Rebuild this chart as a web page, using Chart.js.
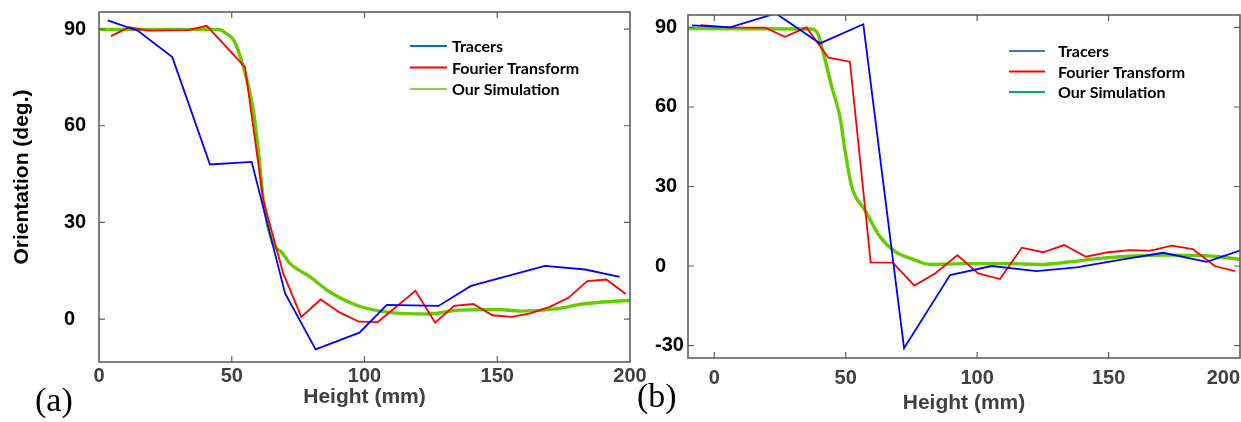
<!DOCTYPE html>
<html>
<head>
<meta charset="utf-8">
<script src="https://cdn.jsdelivr.net/npm/chart.js@4.4.1/dist/chart.umd.min.js"></script>
<style>
  html, body { margin: 0; padding: 0; background: #fff; }
  #wrap { position: relative; width: 1241px; height: 422px; overflow: hidden; }
  #chartA { position: absolute; left: 0; top: 0; }
  #chartB { position: absolute; left: 630px; top: 0; }
</style>
</head>
<body>
<div id="wrap">
  <canvas id="chartA" width="660" height="422"></canvas>
  <canvas id="chartB" width="611" height="422"></canvas>
</div>
<script>
// series names, same in both panels
const seriesNames = ['Tracers', 'Fourier Transform', 'Our Simulation'];

// panel (a)
const aTracersX = [3.3, 14.8, 27.6, 41.8, 57.5, 70.1, 81.6, 98.1, 108.4, 127.9, 140.1, 168.0, 183.1, 196.1];
const aTracersY = [92.7, 89.4, 81.3, 48.0, 48.8, 8.0, -9.4, -4.2, 4.4, 4.1, 10.3, 16.5, 15.4, 13.1];
const aFourierX = [4.5, 11.4, 18.3, 33.6, 40.6, 55.0, 61.9, 69.4, 76.2, 83.5, 90.6, 97.9, 105.0, 119.2, 126.6,
                   133.8, 141.0, 148.2, 155.4, 162.4, 169.8, 176.8, 183.9, 191.1, 198.4];
const aFourierY = [87.8, 90.6, 89.5, 89.7, 91.0, 78.2, 36.9, 14.2, 0.7, 6.1, 2.1, -0.8, -0.9, 8.8, -1.1,
                   4.1, 4.7, 1.2, 0.7, 1.8, 3.8, 6.6, 11.8, 12.3, 7.8];
const aSimX = [0, 43.0, 45.6, 48.0, 50.8, 54.4, 58.1, 60.0, 61.9, 65.5, 68.7, 71.9, 79.5, 86.8, 98.1,
               109.4, 124.4, 135.7, 150.8, 158.3, 172.0, 182.1, 188.3, 200];
const aSimY = [89.9, 89.9, 89.8, 88.6, 86.5, 78.2, 64.8, 52.4, 36.9, 23.5, 20.9, 17.3, 13.1, 8.5, 4.0,
               2.1, 1.6, 2.8, 3.0, 2.5, 3.2, 4.7, 5.2, 5.8];

// panel (b)
const bTracersX = [-8.4, 6.0, 23.4, 40.2, 56.7, 72.2, 89.7, 105.5, 122.6, 137.8, 154.3, 170.8, 187.3, 200];
const bTracersY = [90.8, 90.0, 95.3, 84.0, 91.2, -31.0, -3.4, 0.0, -1.9, -0.5, 2.3, 5.0, 1.6, 5.8];
const bFourierX = [-5.2, 6.0, 19.3, 26.9, 35.1, 43.4, 51.6, 59.5, 67.9, 76.1, 84.0, 92.5, 100.4, 108.7, 117.0,
                   125.1, 133.1, 141.4, 149.9, 158.1, 166.0, 174.0, 182.0, 190.4, 198.1];
const bFourierY = [90.9, 90.0, 89.9, 86.5, 90.0, 78.6, 77.1, 1.4, 1.3, -7.4, -2.8, 4.1, -2.8, -4.9, 6.9,
                   5.2, 7.9, 3.5, 5.2, 6.0, 5.8, 7.7, 6.4, 0.0, -1.9];
const bSimX = [-10, 36.5, 38.3, 39.6, 41.2, 44.7, 47.8, 49.7, 52.3, 57.3, 63.0, 68.8, 75.7, 82.1, 96.0,
               112.5, 123.9, 134.0, 146.7, 159.4, 172.1, 184.7, 192.3, 200];
const bSimY = [89.6, 89.4, 89.0, 87.1, 81.5, 67.6, 56.3, 43.8, 29.9, 21.1, 11.1, 5.4, 2.5, 0.6, 0.9,
               0.9, 0.6, 1.4, 2.9, 3.8, 4.1, 4.0, 3.5, 2.5];

// axis ticks and their labels
const aXTicks = [0, 50, 100, 150, 200];
const aXLabels = ['0', '50', '100', '150', '200'];
const aYTicks = [0, 30, 60, 90];
const bXTicks = [-10, 0, 50, 100, 150, 200];   // -10 is the left edge, left unlabelled
const bXLabels = ['', '0', '50', '100', '150', '200'];
const bYTicks = [-30, 0, 30, 60, 90];

const lineColors = ['#0000ff', '#ff0000', '#66cc00'];
const lineWidths = [1.8, 1.8, 3.4];
const legendColorsA = ['#0070c0', '#ff0000', '#92d050'];
const legendColorsB = ['#4472c4', '#ff0000', '#00b050'];

const tickFont = { family: 'Liberation Sans', size: 20, weight: 'bold' };
const titleFont = { family: 'Liberation Sans', size: 21, weight: 'bold' };

function pts(xs, ys) {
  return xs.map((x, i) => ({ x: x, y: ys[i] }));
}

function makeDatasets(series) {
  return series.map((s, i) => ({
    label: seriesNames[i],
    data: pts(s[0], s[1]),
    borderColor: lineColors[i],
    borderWidth: lineWidths[i],
    pointRadius: 0,
    tension: 0,
    cubicInterpolationMode: i === 2 ? 'monotone' : 'default',
    fill: false
  }));
}

// frame, inward ticks, legend, panel tag and y title
const panelDecor = {
  id: 'panelDecor',
  afterDatasetsDraw(chart, args, o) {
    const { ctx, chartArea: a, scales } = chart;
    ctx.save();
    ctx.strokeStyle = '#5f5f5f';
    ctx.lineWidth = 1.6;
    ctx.strokeRect(a.left, a.top, a.right - a.left, a.bottom - a.top);

    ctx.lineWidth = 1.2;
    ctx.beginPath();
    scales.x.ticks.forEach(t => {
      if (t.value <= scales.x.min || t.value >= scales.x.max) return;
      const px = scales.x.getPixelForValue(t.value);
      ctx.moveTo(px, a.bottom); ctx.lineTo(px, a.bottom - 6);
      ctx.moveTo(px, a.top); ctx.lineTo(px, a.top + 6);
    });
    scales.y.ticks.forEach(t => {
      if (t.value <= scales.y.min || t.value >= scales.y.max) return;
      const py = scales.y.getPixelForValue(t.value);
      ctx.moveTo(a.left, py); ctx.lineTo(a.left + 6, py);
      ctx.moveTo(a.right, py); ctx.lineTo(a.right - 6, py);
    });
    ctx.stroke();

    // legend
    ctx.font = 'bold 16px Lato';
    ctx.textBaseline = 'middle';
    chart.data.datasets.forEach((ds, i) => {
      const y = o.legendY + i * o.legendGap;
      ctx.strokeStyle = o.legendColors[i];
      ctx.lineWidth = 2.2;
      ctx.beginPath();
      ctx.moveTo(o.legendX, y);
      ctx.lineTo(o.legendX + o.legendLen, y);
      ctx.stroke();
      ctx.fillStyle = '#000';
      ctx.fillText(ds.label, o.legendTextX, y + 1);
    });

    // panel tag
    ctx.font = '34px "Liberation Serif"';
    ctx.textBaseline = 'alphabetic';
    ctx.fillStyle = '#000';
    ctx.fillText(o.tag, o.tagX, o.tagY);

    if (o.yTitle) {
      ctx.translate(o.yTitleX, o.yTitleY);
      ctx.rotate(-Math.PI / 2);
      ctx.textAlign = 'center';
      ctx.textBaseline = 'middle';
      ctx.font = 'bold 21px "Liberation Sans"';
      ctx.fillText(o.yTitle, 0, 0);
    }
    ctx.restore();
  }
};

function makeChart(id, p) {
  return new Chart(document.getElementById(id), {
    type: 'line',
    data: { datasets: makeDatasets(p.series) },
    options: {
      responsive: false,
      animation: false,
      layout: { padding: p.padding },
      plugins: {
        legend: { display: false },
        tooltip: { enabled: false },
        panelDecor: p.decor
      },
      scales: {
        x: {
          type: 'linear',
          min: p.xMin, max: p.xMax,
          afterBuildTicks: s => { s.ticks = p.xTicks.map(v => ({ value: v })); },
          afterFit: s => { s.height = p.xHeight; s.paddingLeft = 0; s.paddingRight = 0; },
          grid: { display: false, drawTicks: false },
          border: { display: false },
          ticks: {
            align: p.xAlign,
            padding: p.xPad,
            color: '#404040',
            font: tickFont,
            autoSkip: false,
            maxRotation: 0,
            callback: (v, i) => p.xLabels[i]
          },
          title: {
            display: true,
            text: 'Height (mm)',
            color: '#404040',
            font: titleFont,
            padding: { top: 0, bottom: p.xTitlePad }
          }
        },
        y: {
          type: 'linear',
          min: p.yMin, max: p.yMax,
          afterBuildTicks: s => { s.ticks = p.yTicks.map(v => ({ value: v })); },
          afterFit: s => { s.width = p.yWidth; s.paddingTop = 0; s.paddingBottom = 0; },
          grid: { display: false, drawTicks: false },
          border: { display: false },
          ticks: {
            crossAlign: 'far',
            color: '#000',
            font: tickFont,
            autoSkip: false
          }
        }
      }
    },
    plugins: [panelDecor]
  });
}

makeChart('chartA', {
  series: [[aTracersX, aTracersY], [aFourierX, aFourierY], [aSimX, aSimY]],
  padding: { left: 64, right: 30, top: 12, bottom: 0 },
  xMin: 0, xMax: 200, xTicks: aXTicks, xLabels: aXLabels, xAlign: 'center',
  xHeight: 60, xPad: 2, xTitlePad: 12,
  yMin: -13.3, yMax: 95.3, yTicks: aYTicks, yWidth: 35,
  decor: {
    legendX: 410, legendLen: 37, legendTextX: 452, legendY: 46, legendGap: 21.5,
    legendColors: legendColorsA,
    tag: '(a)', tagX: 35, tagY: 411,
    yTitle: 'Orientation (deg.)', yTitleX: 22, yTitleY: 177
  }
});

makeChart('chartB', {
  series: [[bTracersX, bTracersY], [bFourierX, bFourierY], [bSimX, bSimY]],
  padding: { left: 25, right: 1, top: 15, bottom: 0 },
  xMin: -10, xMax: 200, xTicks: bXTicks, xLabels: bXLabels, xAlign: 'inner',
  xHeight: 64, xPad: 8, xTitlePad: 6,
  yMin: -34.7, yMax: 94.7, yTicks: bYTicks, yWidth: 33,
  decor: {
    legendX: 379, legendLen: 36, legendTextX: 428, legendY: 51, legendGap: 20.5,
    legendColors: legendColorsB,
    tag: '(b)', tagX: 7, tagY: 407
  }
});
</script>
</body>
</html>
